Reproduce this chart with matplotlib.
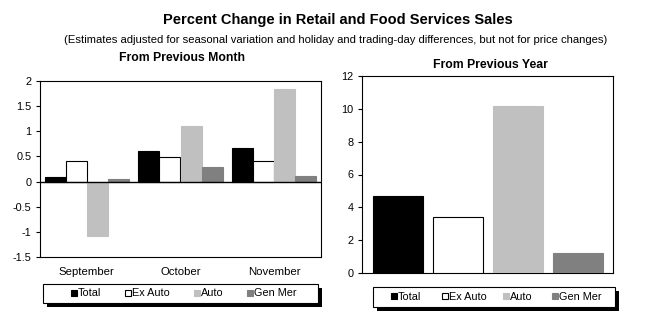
import matplotlib.pyplot as plt
from matplotlib.patches import Rectangle

plt.rcParams["font.family"] = ["Liberation Sans", "DejaVu Sans"]

months = ["September", "October", "November"]
series = ["Total", "Ex Auto", "Auto", "Gen Mer"]
total_mom = [0.10, 0.60, 0.67]
exauto_mom = [0.40, 0.48, 0.41]
auto_mom = [-1.08, 1.10, 1.84]
genmer_mom = [0.06, 0.28, 0.11]
yoy = [4.7, 3.4, 10.2, 1.2]

faces = ["black", "white", "#c0c0c0", "#808080"]
edges = ["black", "black", "#c0c0c0", "#808080"]

fig = plt.figure(figsize=(6.49, 3.21), dpi=100)
W, H = 649, 321


def px_axes(x0, y0, x1, y1):
    return fig.add_axes([x0 / W, 1 - y1 / H, (x1 - x0) / W, (y1 - y0) / H])


fig.text(338 / W, 1 - 20 / H, "Percent Change in Retail and Food Services Sales",
         ha="center", va="center", fontsize=10.5, fontweight="bold")
fig.text(336 / W, 1 - 40 / H, "(Estimates adjusted for seasonal variation and holiday and "
         "trading-day differences, but not for price changes)",
         ha="center", va="center", fontsize=8.1)
fig.text(182 / W, 1 - 58 / H, "From Previous Month", ha="center", va="center",
         fontsize=8.8, fontweight="bold")
fig.text(490 / W, 1 - 65 / H, "From Previous Year", ha="center", va="center",
         fontsize=8.8, fontweight="bold")

# month-over-month panel
ax1 = px_axes(40, 81, 321, 257)
mom = [total_mom, exauto_mom, auto_mom, genmer_mom]
bw = 0.225
for i, vals in enumerate(mom):
    xs = [m + (i - 1.5) * bw for m in range(len(months))]
    ax1.bar(xs, vals, width=bw, color=faces[i], edgecolor=edges[i],
            linewidth=0.8, zorder=3)
ax1.axhline(0, color="black", linewidth=1, zorder=4)
ax1.set_xlim(-0.5, 2.5)
ax1.set_ylim(-1.5, 2)
ax1.set_yticks([-1.5, -1, -0.5, 0, 0.5, 1, 1.5, 2])
ax1.set_yticklabels(["-1.5", "-1", "-0.5", "0", "0.5", "1", "1.5", "2"])
ax1.set_xticks(range(len(months)))
ax1.set_xticklabels(months)
ax1.tick_params(axis="x", length=0, pad=7, labelsize=8.2)
ax1.tick_params(axis="y", length=3, width=0.8, pad=3, labelsize=7.8)

# year-over-year panel
ax2 = px_axes(362, 76, 613, 273)
ax2.bar(range(len(series)), yoy, width=0.83, color=faces, edgecolor=edges,
        linewidth=0.8, zorder=3)
ax2.set_xlim(-0.6, 3.58)
ax2.set_ylim(0, 12)
ax2.set_yticks(range(0, 13, 2))
ax2.set_xticks([])
ax2.tick_params(axis="y", length=3, width=0.8, pad=3, labelsize=7.8)

for ax in (ax1, ax2):
    for s in ax.spines.values():
        s.set_linewidth(0.8)


# legend box drawn by hand (pixel positions, with a drop shadow)
def add_legend(x0, y0, x1, y1, item_x):
    tr = fig.transFigure
    fig.patches.append(Rectangle(((x0 + 4) / W, 1 - (y1 + 4) / H),
                                 (x1 - x0) / W, (y1 - y0) / H,
                                 transform=tr, facecolor="black", edgecolor="none"))
    fig.patches.append(Rectangle((x0 / W, 1 - y1 / H), (x1 - x0) / W, (y1 - y0) / H,
                                 transform=tr, facecolor="white", edgecolor="black",
                                 linewidth=0.8))
    yc = (y0 + y1) / 2
    for name, f, e, x in zip(series, faces, edges, item_x):
        fig.patches.append(Rectangle((x / W, 1 - (yc + 2) / H), 6 / W, 6 / H,
                                     transform=tr, facecolor=f, edgecolor=e,
                                     linewidth=0.8))
        fig.text((x + 7) / W, 1 - yc / H, name, ha="left", va="center", fontsize=7.8)


add_legend(43, 284, 318, 303, [71, 125, 194, 247])
add_legend(373, 287, 615, 307, [391, 442, 503, 552])

fig.savefig("out.png", dpi=100)
